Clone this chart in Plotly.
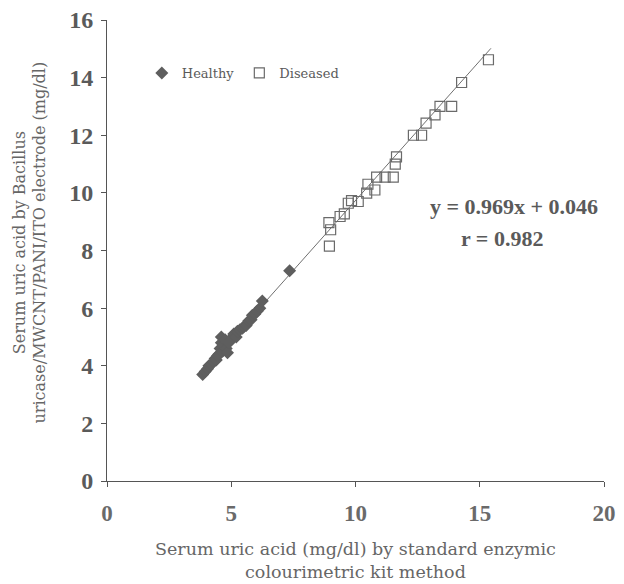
import plotly.graph_objects as go

# Healthy subjects: (kit method, electrode)
healthy_x = [3.85, 3.95, 4.05, 4.1, 4.2, 4.3, 4.35, 4.4, 4.45, 4.5, 4.55, 4.6, 4.6, 4.65, 4.7,
             4.75, 4.8, 4.85, 4.9, 5.0, 5.05, 5.1, 5.2, 5.25, 5.35, 5.45, 5.5, 5.6, 5.7, 5.8,
             5.85, 5.95, 6.05, 6.15, 6.25, 7.35]
healthy_y = [3.70, 3.80, 3.90, 4.0, 4.05, 4.15, 4.25, 4.2, 4.35, 4.4, 4.6, 4.8, 5.0, 4.5, 4.7,
             4.9, 4.6, 4.45, 4.8, 4.9, 5.0, 5.1, 5.0, 5.2, 5.25, 5.3, 5.35, 5.4, 5.55, 5.6,
             5.75, 5.8, 5.9, 6.0, 6.25, 7.3]

# Diseased subjects
diseased_x = [8.95, 8.93, 9.0, 9.38, 9.55, 9.71, 9.84, 10.11, 10.45, 10.5, 10.78, 10.85, 11.19,
              11.52, 11.6, 11.65, 12.33, 12.66, 12.84, 13.2, 13.4, 13.87, 14.27, 15.35]
diseased_y = [8.15, 8.97, 8.72, 9.18, 9.27, 9.64, 9.73, 9.70, 9.99, 10.3, 10.1, 10.55, 10.55,
              10.55, 11.0, 11.25, 12.0, 12.0, 12.42, 12.71, 13.0, 13.0, 13.83, 14.62]

# Regression
slope = 0.969
intercept = 0.046
fit_x = [3.7, 15.45]
fit_y = [slope * v + intercept for v in fit_x]

x_ticks = [0, 5, 10, 15, 20]
y_ticks = [0, 2, 4, 6, 8, 10, 12, 14, 16]

x_title = "Serum uric acid (mg/dl) by standard enzymic<br>colourimetric kit method"
y_title = "Serum uric acid by Bacillus<br>uricase/MWCNT/PANI/ITO electrode (mg/dl)"

serif = "Liberation Serif, Times New Roman, serif"
wide_serif = "DejaVu Serif, serif"
txt = "#5a5a5a"

fig = go.Figure()
fig.add_trace(go.Scatter(x=fit_x, y=fit_y, mode="lines",
                         line=dict(color="#707070", width=1), showlegend=False,
                         hoverinfo="skip"))
fig.add_trace(go.Scatter(x=healthy_x, y=healthy_y, mode="markers", name="Healthy",
                         marker=dict(symbol="diamond", size=10, color="#5e5e5e",
                                     line=dict(width=0))))
fig.add_trace(go.Scatter(x=diseased_x, y=diseased_y, mode="markers", name="Diseased",
                         marker=dict(symbol="square-open", size=10, color="#6a6a6a",
                                     line=dict(width=1.2))))

fig.add_annotation(x=16.38, y=9.51, xref="x", yref="y", showarrow=False,
                   text="y = 0.969x + 0.046",
                   font=dict(family=serif, size=22, color=txt, weight="bold"))
fig.add_annotation(x=15.9, y=8.4, xref="x", yref="y", showarrow=False,
                   text="r = 0.982",
                   font=dict(family=serif, size=22, color=txt, weight="bold"))

# axis titles
fig.add_annotation(x=0.5, y=0, xref="paper", yref="paper", showarrow=False,
                   yanchor="middle", xanchor="center", yshift=-79,
                   text=x_title, font=dict(family=wide_serif, size=17.5, color="#666"))
fig.add_annotation(x=0, y=0.5, xref="paper", yref="paper", showarrow=False,
                   textangle=-90, xanchor="center", yanchor="middle",
                   xshift=-78, yshift=8,
                   text=y_title, font=dict(family=wide_serif, size=16, color="#666"))

fig.update_layout(
    width=616, height=576,
    margin=dict(l=99, r=20, t=12, b=103),
    paper_bgcolor="white", plot_bgcolor="white",
    font=dict(family=serif, color=txt),
    legend=dict(orientation="h", x=0.07, y=0.885, xanchor="left", yanchor="middle",
                bgcolor="rgba(0,0,0,0)", font=dict(family=wide_serif, size=13, color=txt),
                itemwidth=30, tracegroupgap=0),
    xaxis=dict(range=[0, 20], tickvals=x_ticks, showgrid=False, zeroline=False,
               showline=True, linecolor="#555", linewidth=1, ticks="outside",
               ticklen=5, tickcolor="#555", ticklabelstandoff=6, automargin=False,
               ticklabeloverflow="allow",
               tickfont=dict(family=serif, size=23, color="#6a6a6a", weight="bold")),
    yaxis=dict(range=[0, 16], tickvals=y_ticks, showgrid=False, zeroline=False,
               showline=True, linecolor="#555", linewidth=1, ticks="outside",
               ticklen=5, tickcolor="#555", ticklabelstandoff=3, automargin=False,
               ticklabeloverflow="allow",
               tickfont=dict(family=serif, size=24, color=txt, weight="bold")),
)

fig.write_html("out.html")
